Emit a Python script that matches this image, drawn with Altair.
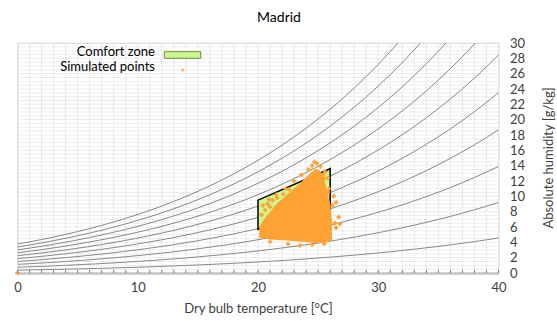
import altair as alt
import pandas as pd

# ---------------- data ----------------
temps = list(range(0, 41))
# saturation vapour pressure of water [kPa] at 0..40 degC (steam table)
psat_kpa = [0.6113, 0.6571, 0.7060, 0.7581, 0.8135, 0.8726, 0.9354, 1.0021, 1.0730, 1.1482,
            1.2282, 1.3129, 1.4028, 1.4981, 1.5989, 1.7057, 1.8188, 1.9383, 2.0647, 2.1982,
            2.3392, 2.4881, 2.6452, 2.8109, 2.9856, 3.1697, 3.3637, 3.5679, 3.7828, 4.0089,
            4.2467, 4.4966, 4.7592, 5.0351, 5.3247, 5.6286, 5.9475, 6.2818, 6.6324, 6.9997,
            7.3844]
rh_levels = [0.1, 0.2, 0.3, 0.4, 0.5, 0.6, 0.7, 0.8, 0.9, 1.0]
p_atm = 101.325

comfort_T = [20, 26]
comfort_low = [5.7, 8.3]
comfort_high = [9.5, 13.6]

core_T = [20.1, 20.5, 21.0, 21.6, 22.7, 23.5, 24.2, 24.8, 25.1, 25.4, 25.7, 26.0, 26.15]
core_low = [4.6, 4.5, 4.4, 4.3, 4.2, 4.1, 4.0, 3.9, 3.9, 3.9, 4.0, 4.1, 4.3]
core_high = [6.0, 7.0, 8.0, 9.1, 10.6, 11.7, 12.8, 13.6, 13.4, 12.8, 11.0, 9.0, 7.0]

pts_T = [21.5, 22.3, 23.0, 23.6, 24.2, 24.5, 24.9, 25.2, 24.7,
         20.4, 20.8, 20.6, 21.2, 20.3, 21.0, 20.9, 21.6, 22.1, 22.6,
         26.3, 26.5, 26.7, 26.4, 26.8, 26.2, 26.5, 25.8, 25.5,
         25.4, 25.8, 25.9, 25.6,
         22.5, 23.5, 24.5, 25.5, 21.0, 0.0]
pts_w = [10.2, 11.0, 12.0, 12.8, 13.5, 14.0, 14.3, 13.9, 14.5,
         8.8, 9.0, 8.2, 9.5, 7.6, 8.6, 9.6, 9.8, 10.3, 10.9,
         10.0, 9.2, 7.3, 6.5, 6.4, 8.8, 5.9, 10.5, 12.3,
         12.8, 12.4, 11.0, 13.2,
         3.8, 3.6, 3.7, 3.8, 4.1, 0.0]

x_labels = [0, 10, 20, 30, 40]
y_labels = list(range(0, 31, 2))
grid_T = list(range(0, 41))
grid_w = [i / 2 for i in range(0, 61)]

# ---------------- tables ----------------
rh_rows = []
for rh in rh_levels:
    for t, ps in zip(temps, psat_kpa):
        rh_rows.append({"rh": rh, "T": t, "w": 622.0 * rh * ps / (p_atm - rh * ps)})
rh_df = pd.DataFrame(rh_rows)
comfort_df = pd.DataFrame({"T": comfort_T, "w": comfort_low, "w2": comfort_high})
core_df = pd.DataFrame({"T": core_T, "w": core_low, "w2": core_high})
pts_df = pd.DataFrame({"T": pts_T, "w": pts_w})
gridT_df = pd.DataFrame({"T": grid_T})
gridW_df = pd.DataFrame({"w": grid_w})

W, H = 481, 230
FONT = "Lato"
TXT = "#404040"
ORANGE = "#ffa234"
GREEN = "#ccf78f"

xs = alt.Scale(domain=[0, 40], nice=False, zero=False)
ys = alt.Scale(domain=[0, 30], nice=False, zero=False)
xaxis = alt.Axis(values=x_labels, title="Dry bulb temperature [°C]", grid=False, ticks=False,
                 domainColor="#bfbfbf", domainWidth=2.5, labelFontSize=13, labelColor=TXT,
                 labelFont=FONT, labelPadding=8, titleFont=FONT, titleFontSize=13,
                 titleFontWeight="normal", titleColor=TXT, titlePadding=8, labelFlush=False)
yaxis = alt.Axis(values=y_labels, orient="right", title=None, grid=False,
                 ticks=False, domain=False, labelFontSize=13, labelColor=TXT, labelFont=FONT,
                 labelAlign="left", labelPadding=11, labelFlush=False)
X = alt.X("T:Q", scale=xs, axis=xaxis)
Y = alt.Y("w:Q", scale=ys, axis=yaxis)

grid_v = alt.Chart(gridT_df).mark_rule(color="#d6d6d6", strokeDash=[1, 1], strokeWidth=1).encode(
    x=X, y=alt.value(0), y2=alt.value(H))
grid_h = alt.Chart(gridW_df).mark_rule(color="#dadada", strokeDash=[1, 1], strokeWidth=1).encode(
    y=Y, x=alt.value(0), x2=alt.value(W))

rh_lines = alt.Chart(rh_df).mark_line(color="#7a7a7a", strokeWidth=0.9, clip=True,
                                      interpolate="monotone").encode(
    x=X, y=Y, detail="rh:N")

comfort = alt.Chart(comfort_df).mark_area(fill=GREEN, stroke="black", strokeWidth=1.5,
                                          opacity=1).encode(x=X, y=Y, y2="w2:Q")

core = alt.Chart(core_df).mark_area(color=ORANGE, opacity=1).encode(
    x=X, y=Y, y2="w2:Q")

pts = alt.Chart(pts_df).mark_point(shape="cross", filled=True, color=ORANGE, size=20,
                                   opacity=1).encode(x=X, y=Y)

ticks = alt.Chart(gridT_df).mark_rule(color="#808080", strokeWidth=1).encode(
    x=X, y=alt.value(H - 3), y2=alt.value(H))

# ---------------- legend & titles ----------------
leg_text = alt.Chart(pd.DataFrame({"label": ["Comfort zone", "Simulated points"],
                                   "yy": [9.3, 23.7]})).mark_text(
    align="right", baseline="middle", font=FONT, fontSize=13, color="black").encode(
    text="label:N", x=alt.value(137.5), y=alt.Y("yy:Q", scale=None))
leg_swatch = alt.Chart(pd.DataFrame({"k": [1]})).mark_rect(
    fill=GREEN, stroke="#6b8e3a", strokeWidth=1).encode(
    x=alt.value(146.8), x2=alt.value(183.2), y=alt.value(8.7), y2=alt.value(15.3))
leg_point = alt.Chart(pd.DataFrame({"k": [1]})).mark_point(
    shape="cross", filled=True, color=ORANGE, size=8, opacity=1).encode(
    x=alt.value(165.2), y=alt.value(27))
title = alt.Chart(pd.DataFrame({"t": ["Madrid"]})).mark_text(
    align="center", baseline="middle", font=FONT, fontSize=14, color="black").encode(
    text="t:N", x=alt.value(261.5), y=alt.value(-25))
ytitle = alt.Chart(pd.DataFrame({"t": ["Absolute humidity [g/kg]"]})).mark_text(
    align="center", baseline="middle", font=FONT, fontSize=13, color=TXT, angle=270).encode(
    text="t:N", x=alt.value(531.5), y=alt.value(H / 2))

chart = alt.layer(grid_v, grid_h, rh_lines, comfort, core, pts, ticks,
                  leg_text, leg_swatch, leg_point, title, ytitle).properties(
    width=W, height=H,
    autosize=alt.AutoSizeParams(type="none"),
    padding={"left": 17.5, "top": 43, "right": 58.5, "bottom": 48},
).configure_view(stroke=None).configure(background="white")

chart.save("out.html", embed_options={"renderer": "svg", "actions": False})
